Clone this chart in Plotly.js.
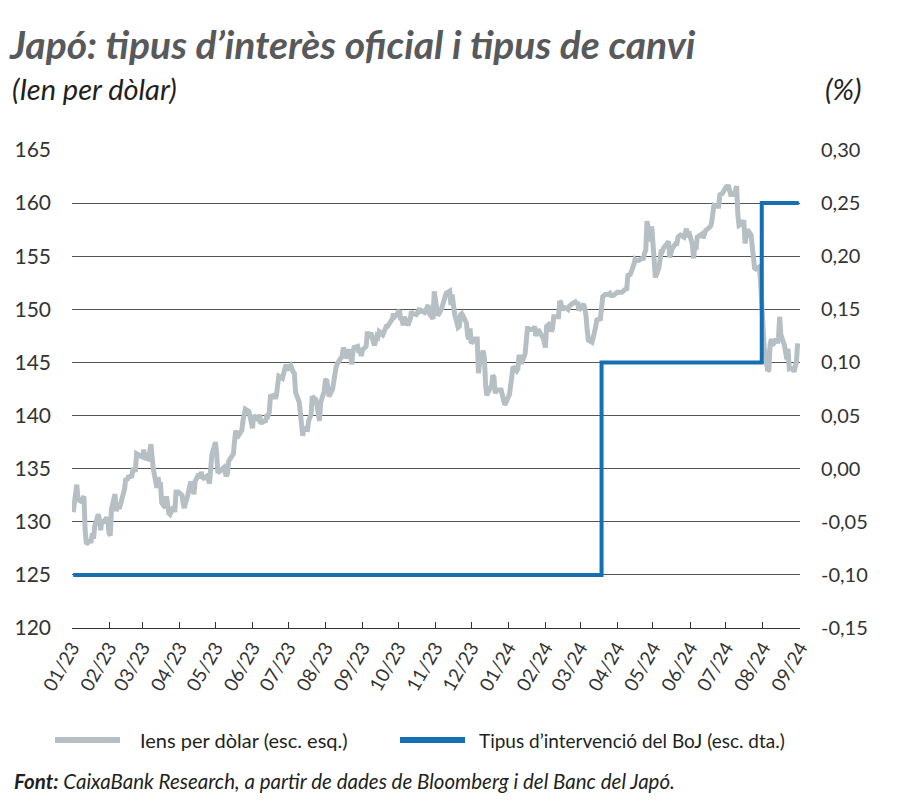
<!DOCTYPE html>
<html>
<head>
<meta charset="utf-8">
<script src="https://cdn.plot.ly/plotly-3.0.1.min.js"></script>
<style>html,body{margin:0;padding:0;background:#fff;}#chart{width:900px;height:811px;}</style>
</head>
<body>
<div id="chart"></div>
<script>
// Yen per dollar (left axis)
const fxDates = [
"2023-01-02","2023-01-04","2023-01-05","2023-01-06","2023-01-09","2023-01-10","2023-01-11","2023-01-12","2023-01-13","2023-01-16","2023-01-17","2023-01-18","2023-01-19","2023-01-20","2023-01-23","2023-01-24","2023-01-25","2023-01-26","2023-01-27","2023-01-30","2023-01-31",
"2023-02-01","2023-02-02","2023-02-03","2023-02-06","2023-02-07","2023-02-08","2023-02-10","2023-02-13","2023-02-14","2023-02-15","2023-02-16","2023-02-17","2023-02-20","2023-02-21","2023-02-22","2023-02-23","2023-02-24","2023-02-27","2023-02-28",
"2023-03-01","2023-03-02","2023-03-03","2023-03-06","2023-03-07","2023-03-08","2023-03-09","2023-03-10","2023-03-13","2023-03-14","2023-03-15","2023-03-16","2023-03-17","2023-03-20","2023-03-21","2023-03-22","2023-03-23","2023-03-24","2023-03-27","2023-03-28","2023-03-29","2023-03-31",
"2023-04-03","2023-04-04","2023-04-05","2023-04-06","2023-04-07","2023-04-10","2023-04-11","2023-04-12","2023-04-13","2023-04-14","2023-04-17","2023-04-18","2023-04-19","2023-04-20","2023-04-21","2023-04-24","2023-04-25","2023-04-26","2023-04-28",
"2023-05-01","2023-05-02","2023-05-03","2023-05-05","2023-05-08","2023-05-10","2023-05-11","2023-05-12","2023-05-15","2023-05-16","2023-05-17","2023-05-18","2023-05-19","2023-05-22","2023-05-23","2023-05-24","2023-05-25","2023-05-26","2023-05-29","2023-05-30","2023-05-31",
"2023-06-01","2023-06-02","2023-06-05","2023-06-06","2023-06-07","2023-06-08","2023-06-09","2023-06-12","2023-06-13","2023-06-14","2023-06-15","2023-06-16","2023-06-19","2023-06-20","2023-06-21","2023-06-22","2023-06-23","2023-06-26","2023-06-27","2023-06-28","2023-06-29","2023-06-30",
"2023-07-03","2023-07-05","2023-07-06","2023-07-07","2023-07-10","2023-07-11","2023-07-12","2023-07-13","2023-07-14","2023-07-17","2023-07-18","2023-07-19","2023-07-20","2023-07-21","2023-07-24","2023-07-25","2023-07-26","2023-07-27","2023-07-28","2023-07-31",
"2023-08-01","2023-08-02","2023-08-03","2023-08-04","2023-08-07","2023-08-08","2023-08-09","2023-08-10","2023-08-11","2023-08-14","2023-08-15","2023-08-16","2023-08-17","2023-08-18","2023-08-21","2023-08-22","2023-08-23","2023-08-24","2023-08-25","2023-08-28","2023-08-29","2023-08-30","2023-08-31",
"2023-09-01","2023-09-04","2023-09-05","2023-09-06","2023-09-07","2023-09-08","2023-09-11","2023-09-12","2023-09-13","2023-09-14","2023-09-15","2023-09-18","2023-09-19","2023-09-20","2023-09-21","2023-09-22","2023-09-25","2023-09-26","2023-09-27","2023-09-28","2023-09-29",
"2023-10-02","2023-10-03","2023-10-04","2023-10-05","2023-10-06","2023-10-09","2023-10-10","2023-10-11","2023-10-12","2023-10-13","2023-10-16","2023-10-17","2023-10-18","2023-10-19","2023-10-20","2023-10-23","2023-10-24","2023-10-25","2023-10-26","2023-10-27","2023-10-30","2023-10-31",
"2023-11-01","2023-11-02","2023-11-03","2023-11-06","2023-11-07","2023-11-08","2023-11-09","2023-11-10","2023-11-13","2023-11-14","2023-11-15","2023-11-16","2023-11-17","2023-11-20","2023-11-21","2023-11-22","2023-11-23","2023-11-24","2023-11-27","2023-11-28","2023-11-29","2023-11-30",
"2023-12-01","2023-12-04","2023-12-05","2023-12-06","2023-12-07","2023-12-08","2023-12-11","2023-12-12","2023-12-13","2023-12-14","2023-12-15","2023-12-18","2023-12-19","2023-12-20","2023-12-21","2023-12-22","2023-12-26","2023-12-27","2023-12-28","2023-12-29",
"2024-01-02","2024-01-03","2024-01-04","2024-01-05","2024-01-08","2024-01-09","2024-01-10","2024-01-11","2024-01-12","2024-01-15","2024-01-16","2024-01-17","2024-01-18","2024-01-19","2024-01-22","2024-01-23","2024-01-24","2024-01-25","2024-01-26","2024-01-29","2024-01-30","2024-01-31",
"2024-02-01","2024-02-02","2024-02-05","2024-02-06","2024-02-07","2024-02-08","2024-02-09","2024-02-12","2024-02-13","2024-02-14","2024-02-15","2024-02-16","2024-02-19","2024-02-20","2024-02-21","2024-02-22","2024-02-23","2024-02-26","2024-02-27","2024-02-28","2024-02-29",
"2024-03-01","2024-03-04","2024-03-05","2024-03-06","2024-03-07","2024-03-08","2024-03-11","2024-03-12","2024-03-13","2024-03-14","2024-03-15","2024-03-18","2024-03-19","2024-03-20","2024-03-21","2024-03-22","2024-03-25","2024-03-26","2024-03-27","2024-03-28","2024-03-29",
"2024-04-01","2024-04-02","2024-04-03","2024-04-04","2024-04-05","2024-04-08","2024-04-09","2024-04-10","2024-04-11","2024-04-12","2024-04-15","2024-04-16","2024-04-17","2024-04-18","2024-04-19","2024-04-22","2024-04-23","2024-04-24","2024-04-25","2024-04-26","2024-04-29","2024-04-30",
"2024-05-01","2024-05-02","2024-05-03","2024-05-06","2024-05-07","2024-05-08","2024-05-09","2024-05-10","2024-05-13","2024-05-14","2024-05-15","2024-05-16","2024-05-17","2024-05-20","2024-05-21","2024-05-22","2024-05-23","2024-05-24","2024-05-27","2024-05-28","2024-05-29","2024-05-30","2024-05-31",
"2024-06-03","2024-06-04","2024-06-05","2024-06-06","2024-06-07","2024-06-10","2024-06-11","2024-06-12","2024-06-13","2024-06-14","2024-06-17","2024-06-18","2024-06-19","2024-06-20","2024-06-21","2024-06-24","2024-06-25","2024-06-26","2024-06-27","2024-06-28",
"2024-07-01","2024-07-02","2024-07-03","2024-07-04","2024-07-05","2024-07-08","2024-07-09","2024-07-10","2024-07-11","2024-07-12","2024-07-15","2024-07-16","2024-07-17","2024-07-18","2024-07-19","2024-07-22","2024-07-23","2024-07-24","2024-07-25","2024-07-26","2024-07-29","2024-07-30","2024-07-31",
"2024-08-01","2024-08-02","2024-08-05","2024-08-06","2024-08-07","2024-08-08","2024-08-09","2024-08-12","2024-08-13","2024-08-14","2024-08-15","2024-08-16","2024-08-19","2024-08-20","2024-08-21","2024-08-22","2024-08-23","2024-08-26","2024-08-27","2024-08-28","2024-08-29","2024-08-30"
];
const fxValues = [
130.9,132.4,133.5,132.1,131.9,132.2,132.4,129.2,127.9,128.2,128.2,128.9,128.4,129.6,130.7,130.2,129.2,130.2,129.9,130.4,130.1,
128.9,128.7,131.2,132.6,131.0,131.4,131.4,132.4,133.1,134.1,133.9,134.2,134.3,134.9,134.9,134.7,136.4,136.2,136.2,
136.1,136.8,136.0,135.9,137.1,137.3,136.1,135.0,133.2,134.2,133.4,133.7,131.8,131.3,132.4,131.4,130.8,130.7,131.4,130.9,132.8,132.8,
132.5,131.7,131.3,131.8,132.1,133.6,133.6,133.1,132.6,133.8,134.5,134.1,134.7,134.2,134.1,134.3,133.7,133.6,136.3,
137.5,136.5,134.6,134.8,135.1,134.3,134.5,135.7,136.1,136.4,137.6,138.6,137.9,138.6,138.6,139.5,139.9,140.6,140.4,139.8,139.3,
138.8,140.0,139.6,139.6,140.1,139.2,139.4,139.5,140.1,140.0,140.3,141.8,141.9,141.6,141.9,143.1,143.7,143.5,144.1,144.5,144.8,144.3,
144.7,144.1,144.0,142.2,141.3,140.3,138.5,138.1,138.8,138.7,139.5,139.9,140.1,141.8,141.5,140.9,140.2,139.5,141.2,142.3,
143.3,143.4,142.6,141.8,142.5,143.4,143.7,144.6,144.9,145.6,145.6,146.4,146.1,145.4,146.2,145.9,144.8,146.0,146.4,146.5,145.9,146.2,145.6,
146.2,146.5,147.7,147.7,147.3,147.8,146.6,147.1,147.5,147.4,147.9,147.6,147.9,148.3,148.4,148.4,148.9,149.1,149.6,149.3,149.4,
149.9,149.0,149.1,148.5,149.3,148.5,148.7,149.1,149.8,149.6,149.5,149.8,149.9,149.8,149.9,149.7,149.9,150.2,150.4,149.6,149.1,151.7,
150.9,150.4,149.4,150.0,150.4,150.9,151.3,151.5,151.7,150.4,151.4,150.7,149.6,148.3,148.4,149.5,149.6,149.4,148.7,147.5,147.2,148.2,
146.8,147.2,147.2,147.2,144.0,144.9,146.1,145.4,142.9,141.9,142.2,142.8,143.8,143.6,142.1,142.4,142.4,142.0,141.4,141.0,
142.0,143.3,144.6,144.6,144.2,144.4,145.7,145.3,144.9,145.8,147.2,148.2,148.2,148.1,148.1,148.4,147.5,147.7,148.1,147.5,147.6,146.9,
146.4,148.4,148.7,147.9,148.2,149.3,149.3,149.3,150.8,150.6,149.9,150.2,150.1,150.0,150.3,150.5,150.5,150.7,150.5,150.7,149.9,
150.1,150.5,150.0,149.4,148.0,147.1,146.9,147.7,147.8,148.3,149.0,149.1,150.8,151.2,151.3,151.4,151.4,151.5,151.3,151.3,151.3,
151.6,151.6,151.6,151.6,151.6,151.9,151.8,153.2,153.2,153.3,154.2,154.7,154.6,154.6,154.6,154.8,154.8,155.3,155.6,158.3,156.4,157.8,
155.6,153.2,153.0,153.9,154.7,155.6,155.5,155.8,156.2,156.4,154.9,155.4,155.7,156.2,156.2,156.8,156.9,157.0,156.8,157.1,157.6,156.8,157.3,
156.1,154.8,156.1,155.6,156.8,157.0,157.1,156.7,157.0,157.4,157.7,157.8,158.1,158.9,159.8,159.7,159.7,160.8,160.8,160.9,
161.5,161.5,161.7,161.3,160.8,160.8,161.3,161.6,158.9,157.9,158.1,158.4,156.2,157.4,157.5,157.0,155.6,153.9,153.9,153.8,154.0,152.7,150.0,
149.4,146.5,144.2,144.3,146.7,147.2,146.6,147.2,146.8,147.3,149.3,147.6,146.6,145.3,145.3,146.3,144.4,144.5,144.1,144.6,145.0,146.8
];
// BoJ policy rate (right axis), step changes
const bojDates = ["2023-01-02","2024-03-19","2024-07-31","2024-08-31"];
const bojValues = [-0.10, 0.10, 0.25, 0.25];

const leftTicks = [120,125,130,135,140,145,150,155,160,165];
const rightTickVals = [-0.15,-0.10,-0.05,0.00,0.05,0.10,0.15,0.20,0.25,0.30];
const rightTickText = ["-0,15","-0,10","-0,05","0,00","0,05","0,10","0,15","0,20","0,25","0,30"];

const seriesNames = ["Iens per dòlar (esc. esq.)","Tipus d’intervenció del BoJ (esc. dta.)"];
const grayCol = "#b6c0c4", blueCol = "#1570b3";
const FONT = "Lato, 'Open Sans', sans-serif";

const traces = [
  {x: fxDates, y: fxValues, type: "scatter", mode: "lines", name: seriesNames[0],
   line: {color: grayCol, width: 5}, yaxis: "y", showlegend: false, hoverinfo: "skip"},
  {x: bojDates, y: bojValues, type: "scatter", mode: "lines", name: seriesNames[1],
   line: {color: blueCol, width: 4, shape: "hv"}, yaxis: "y2", showlegend: false, hoverinfo: "skip"}
];

const L = 72, R = 800, T = 150, B = 628;
const px = v => (v - L) / (R - L);
const py = v => (B - v) / (B - T);

const layout = {
  width: 900, height: 811,
  margin: {l: L, r: 900 - R, t: T, b: 811 - B},
  paper_bgcolor: "#fff", plot_bgcolor: "#fff",
  font: {family: FONT, color: "#333", size: 18},
  title: {text: "<b><i>Japó: tipus d’interès oficial i tipus de canvi</i></b>",
          x: 10/900, xref: "container", xanchor: "left",
          y: 1 - 45/811, yref: "container", yanchor: "middle",
          font: {family: FONT, size: 39, color: "#58595b"}},
  xaxis: {type: "date", range: ["2023-01-01","2024-09-01"],
          tick0: "2023-01-01", dtick: "M1", tickformat: "%m/%y", tickangle: -60,
          ticks: "inside", ticklen: 6, tickcolor: "#333", tickwidth: 1,
          showline: true, linecolor: "#333", linewidth: 1.2,
          showgrid: false, zeroline: false,
          tickfont: {family: FONT, size: 19, color: "#333"}},
  yaxis: {range: [120, 165], tickvals: leftTicks, showgrid: true, gridcolor: "#555", gridwidth: 1,
          zeroline: false, showline: false, ticks: "", ticklabelstandoff: 20,
          tickfont: {family: FONT, size: 21, color: "#333"}},
  yaxis2: {range: [-0.15, 0.30], overlaying: "y", side: "right",
           tickvals: rightTickVals, ticktext: rightTickText,
           showgrid: false, zeroline: false, showline: false, ticks: "", ticklabelstandoff: 20,
           tickfont: {family: FONT, size: 20, color: "#333"}},
  shapes: [
    {type: "line", xref: "paper", yref: "paper", x0: px(55), x1: px(120), y0: py(740), y1: py(740),
     line: {color: grayCol, width: 6}},
    {type: "line", xref: "paper", yref: "paper", x0: px(400), x1: px(465), y0: py(740), y1: py(740),
     line: {color: blueCol, width: 6}}
  ],
  annotations: [
    {text: "<i>(Ien per dòlar)</i>", xref: "paper", yref: "paper", x: px(10), y: py(88),
     xanchor: "left", yanchor: "middle", showarrow: false, font: {family: FONT, size: 29, color: "#231f20"}},
    {text: "<i>(%)</i>", xref: "paper", yref: "paper", x: px(864), y: py(88),
     xanchor: "right", yanchor: "middle", showarrow: false, font: {family: FONT, size: 29, color: "#231f20"}},
    {text: seriesNames[0], xref: "paper", yref: "paper", x: px(138), y: py(740),
     xanchor: "left", yanchor: "middle", showarrow: false, font: {family: FONT, size: 20, color: "#231f20"}},
    {text: seriesNames[1], xref: "paper", yref: "paper", x: px(477), y: py(740),
     xanchor: "left", yanchor: "middle", showarrow: false, font: {family: FONT, size: 19, color: "#231f20"}},
    {text: "<i><b>Font:</b> CaixaBank Research, a partir de dades de Bloomberg i del Banc del Japó.</i>",
     xref: "paper", yref: "paper", x: px(12), y: py(781),
     xanchor: "left", yanchor: "middle", showarrow: false, font: {family: FONT, size: 20.5, color: "#231f20"}}
  ]
};

Plotly.newPlot("chart", traces, layout, {staticPlot: true, displayModeBar: false});
</script>
</body>
</html>
